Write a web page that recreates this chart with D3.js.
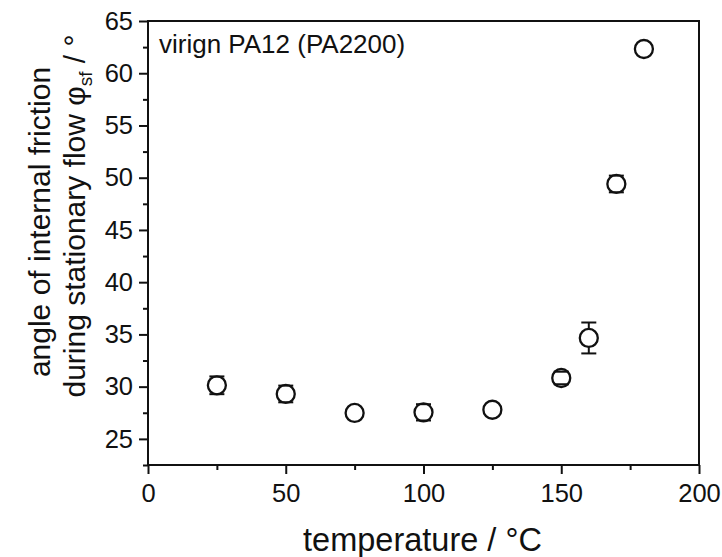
<!DOCTYPE html>
<html>
<head>
<meta charset="utf-8">
<script src="https://cdn.jsdelivr.net/npm/d3@7"></script>
<style>
  body { margin: 0; background: #fff; }
  svg { display: block; font-family: "Liberation Sans", Arial, sans-serif; }
  .tick text { font-size: 25.5px; fill: #111; }
  .tick line { stroke: #111; stroke-width: 2; }
</style>
</head>
<body>
<div id="chart"></div>
<script>
// data
let temperatures = [25, 50, 75, 100, 125, 150, 160, 170, 180];
let angles = [30.13, 29.3, 27.48, 27.54, 27.79, 30.83, 34.66, 49.4, 62.32];
let errors = [0.85, 0.8, 0, 0.78, 0, 0.6, 1.48, 0.8, 0];
let xTicks = [0, 50, 100, 150, 200];
let xMinor = [25, 75, 125, 175];
let yTicks = [25, 30, 35, 40, 45, 50, 55, 60, 65];
let yMinor = [22.5, 27.5, 32.5, 37.5, 42.5, 47.5, 52.5, 57.5, 62.5];

let width = 722, height = 557;
let margin = {top: 21, right: 23, bottom: 92, left: 148};

let svg = d3.select("#chart").append("svg")
    .attr("width", width)
    .attr("height", height);

let x = d3.scaleLinear().domain([0, 200]).range([margin.left, width - margin.right]);
let y = d3.scaleLinear().domain([22.5, 65]).range([height - margin.bottom, margin.top]);

let bottom = height - margin.bottom;

// minor ticks first
svg.append("g")
    .attr("transform", `translate(0,${bottom})`)
    .call(d3.axisBottom(x).tickValues(xMinor).tickSize(5).tickFormat(""))
    .call(g => g.select(".domain").remove());
svg.append("g")
    .attr("transform", `translate(${margin.left},0)`)
    .call(d3.axisLeft(y).tickValues(yMinor).tickSize(5).tickFormat(""))
    .call(g => g.select(".domain").remove());

// major ticks with labels
svg.append("g")
    .attr("transform", `translate(0,${bottom})`)
    .call(d3.axisBottom(x).tickValues(xTicks).tickSize(9).tickPadding(10))
    .call(g => g.select(".domain").remove());
svg.append("g")
    .attr("transform", `translate(${margin.left},0)`)
    .call(d3.axisLeft(y).tickValues(yTicks).tickSize(9).tickPadding(6))
    .call(g => g.select(".domain").remove());

// frame
svg.append("rect")
    .attr("x", x(0)).attr("y", y(65))
    .attr("width", x(200) - x(0)).attr("height", y(22.5) - y(65))
    .attr("fill", "none").attr("stroke", "#111").attr("stroke-width", 2);

// error bars and points
let r = 9, cap = 7.5;
let pts = temperatures.map((t, i) => ({t: t, v: angles[i], e: errors[i]}));

let eb = svg.append("g").attr("stroke", "#111").attr("stroke-width", 2);
pts.filter(d => d.e > 0).forEach(d => {
    let cx = x(d.t), cy = y(d.v);
    let top = y(d.v + d.e), bot = y(d.v - d.e);
    [top, bot].forEach(yy => {
        eb.append("line").attr("x1", cx - cap).attr("x2", cx + cap).attr("y1", yy).attr("y2", yy);
    });
    if (cy - top > r) {
        eb.append("line").attr("x1", cx).attr("x2", cx).attr("y1", top).attr("y2", cy - r);
        eb.append("line").attr("x1", cx).attr("x2", cx).attr("y1", cy + r).attr("y2", bot);
    }
});

svg.append("g").selectAll("circle")
    .data(pts)
    .join("circle")
    .attr("cx", d => x(d.t))
    .attr("cy", d => y(d.v))
    .attr("r", r)
    .attr("fill", "none")
    .attr("stroke", "#111")
    .attr("stroke-width", 2.3);

// annotation
svg.append("text")
    .attr("x", 159).attr("y", 53)
    .attr("font-size", 26)
    .attr("fill", "#111")
    .text("virign PA12 (PA2200)");

// axis titles
svg.append("text")
    .attr("x", (x(0) + x(200)) / 2 - 1).attr("y", 551)
    .attr("text-anchor", "middle")
    .attr("font-size", 32.5)
    .attr("fill", "#111")
    .text("temperature / \u00B0C");

svg.append("text")
    .attr("transform", "translate(50,222) rotate(-90)")
    .attr("text-anchor", "middle")
    .attr("font-size", 30)
    .attr("fill", "#111")
    .text("angle of internal friction");

let t2 = svg.append("text")
    .attr("transform", "translate(85,216) rotate(-90)")
    .attr("text-anchor", "middle")
    .attr("font-size", 30)
    .attr("fill", "#111");
t2.append("tspan").text("during stationary flow \u03C6");
t2.append("tspan").attr("font-size", 19).attr("dy", 7).text("sf");
t2.append("tspan").attr("dy", -7).text(" / \u00B0");
</script>
</body>
</html>
